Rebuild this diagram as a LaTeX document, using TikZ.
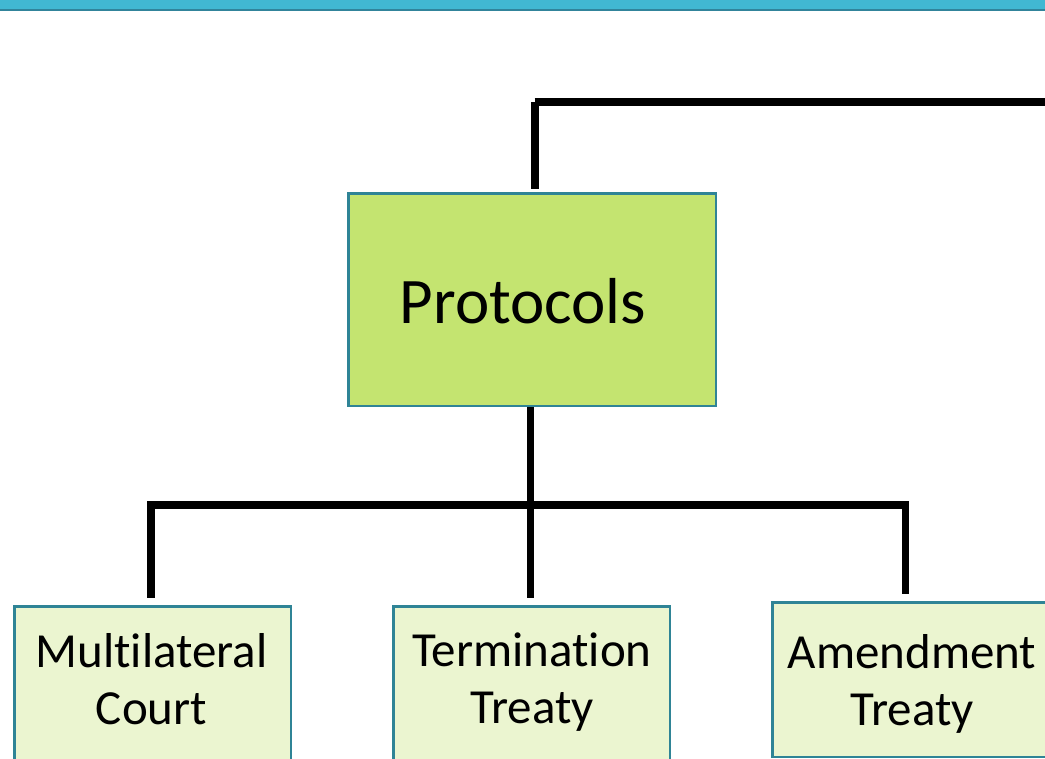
\documentclass[tikz,border=0pt]{standalone}
\usepackage{fontspec}
\setmainfont{Carlito}[Ligatures={NoCommon}]
\definecolor{barblue}{HTML}{41B8D2}
\definecolor{bardark}{HTML}{31849B}
\definecolor{protfill}{HTML}{C4E470}
\definecolor{leaffill}{HTML}{EBF5D0}
\definecolor{boxedge}{HTML}{2F8496}
\tikzset{
  conn/.style={line width=7.5pt, black, line cap=butt},
  protbox/.style={draw=boxedge, line width=2.5pt, fill=protfill, minimum width=367.5pt, minimum height=212.5pt, inner sep=0pt, anchor=north west},
  leafbox/.style={draw=boxedge, line width=2.5pt, fill=leaffill, minimum width=276.5pt, minimum height=160pt, inner sep=0pt, anchor=north west},
  bigtext/.style={font=\fontsize{65}{70}\selectfont, inner sep=0pt, anchor=base},
  leaftext/.style={font=\fontsize{49}{57}\selectfont, inner sep=0pt, align=center, anchor=base},
}
\begin{document}
\begin{tikzpicture}[x=1pt,y=-1pt]
\useasboundingbox (0,0) rectangle (1045,759);
\clip (0,0) rectangle (1045,759);
% top band
\fill[barblue] (0,0) rectangle (1045,9);
\fill[bardark] (0,9) rectangle (1045,11);
% boxes
\node[protbox] (prot) at (347.25,192.25) {};
\node[bigtext] (prottext) at (523,324) {Protocols};
\node[leafbox] (mc) at (13.25,605.25) {};
\node[leafbox] (tt) at (392.25,605.25) {};
\node[leafbox, minimum height=154.5pt] (at) at (771.25,601.25) {};
\node[leaftext] (mctext) at (151.5,724) {Multilateral\\Court};
\node[leaftext] (tttext) at (532,723) {Termination\\Treaty};
\node[leaftext] (attext) at (912,725) {Amendment\\Treaty};
% coordinates
\coordinate (topcorner) at (535,102);
\coordinate (offright) at (1050,102);
\coordinate (barl) at (151,505);
\coordinate (barm) at (530.5,505);
\coordinate (barr) at (905.5,505);
% connectors
\draw[conn] (topcorner) -- ([yshift=3pt]prot.north -| topcorner);
\draw[conn] ([xshift=-0.5pt]topcorner) -- (offright);
\draw[conn] (prot.south -| barm) -- (barm);
\draw[conn] ([xshift=-3.75pt]barl) -- ([xshift=3.75pt]barr);
\draw[conn] (barl) -- ([yshift=7pt]mc.north -| barl);
\draw[conn] (barm) -- ([yshift=7pt]tt.north -| barm);
\draw[conn] ([yshift=2pt]barr) -- ([yshift=7pt]at.north -| barr);
\end{tikzpicture}
\end{document}
